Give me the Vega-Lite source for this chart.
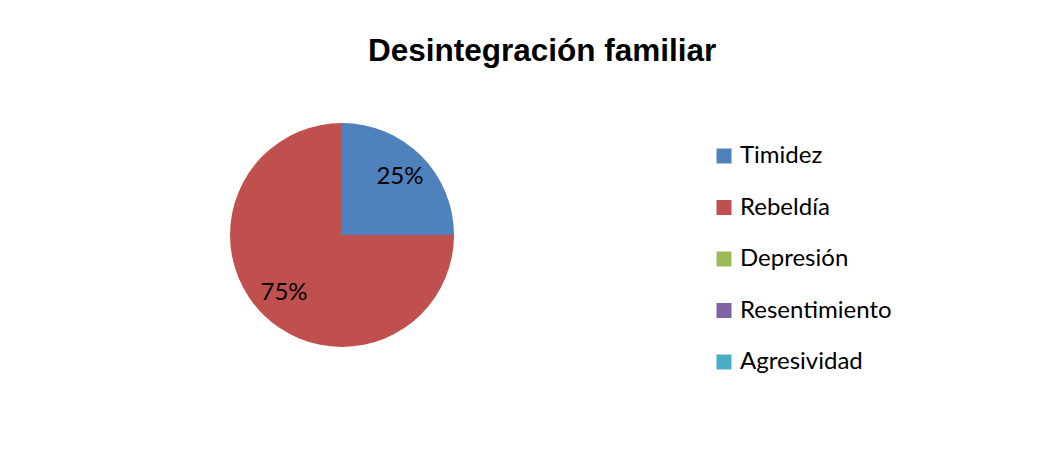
{
  "$schema": "https://vega.github.io/schema/vega-lite/v6.json",
  "autosize": {"type": "none"},
  "width": 664,
  "height": 270,
  "padding": {"left": 10, "top": 100, "right": 389, "bottom": 80},
  "background": "white",
  "config": {"view": {"stroke": null}},
  "title": {
    "text": "Desintegración familiar",
    "font": "Liberation Sans",
    "fontSize": 31.5,
    "fontWeight": "bold",
    "color": "#000000",
    "anchor": "start",
    "frame": "group",
    "dx": 358,
    "offset": 33
  },
  "data": {
    "values": [
      {"categoria": "Timidez", "porcentaje": 25, "idx": 1, "etiqueta": "25%"},
      {"categoria": "Rebeldía", "porcentaje": 75, "idx": 2, "etiqueta": "75%"},
      {"categoria": "Depresión", "porcentaje": 0, "idx": 3, "etiqueta": "0%"},
      {"categoria": "Resentimiento", "porcentaje": 0, "idx": 4, "etiqueta": "0%"},
      {"categoria": "Agresividad", "porcentaje": 0, "idx": 5, "etiqueta": "0%"}
    ]
  },
  "layer": [
    {
      "mark": {"type": "arc", "outerRadius": 112},
      "encoding": {
        "theta": {"field": "porcentaje", "type": "quantitative", "stack": true},
        "order": {"field": "idx", "type": "quantitative"},
        "color": {
          "field": "categoria",
          "type": "nominal",
          "scale": {
            "domain": ["Timidez", "Rebeldía", "Depresión", "Resentimiento", "Agresividad"],
            "range": ["#4F81BD", "#C0504D", "#9BBB59", "#8064A2", "#4BACC6"]
          },
          "legend": {
            "title": null,
            "orient": "none",
            "legendX": 702,
            "legendY": 44,
            "padding": 0,
            "symbolType": "square",
            "symbolSize": 225,
            "symbolStrokeWidth": 0,
            "symbolOpacity": 1,
            "labelFont": "Lato",
            "labelFontSize": 24,
            "labelColor": "#000000",
            "labelOffset": 4,
            "rowPadding": 27.5,
            "labelLimit": 400
          }
        }
      }
    },
    {
      "transform": [{"filter": "datum.porcentaje > 0"}],
      "mark": {"type": "text", "radius": 82, "font": "Lato", "fontSize": 24, "color": "#000000"},
      "encoding": {
        "theta": {"field": "porcentaje", "type": "quantitative", "stack": true},
        "order": {"field": "idx", "type": "quantitative"},
        "text": {"field": "etiqueta", "type": "nominal"}
      }
    }
  ]
}
